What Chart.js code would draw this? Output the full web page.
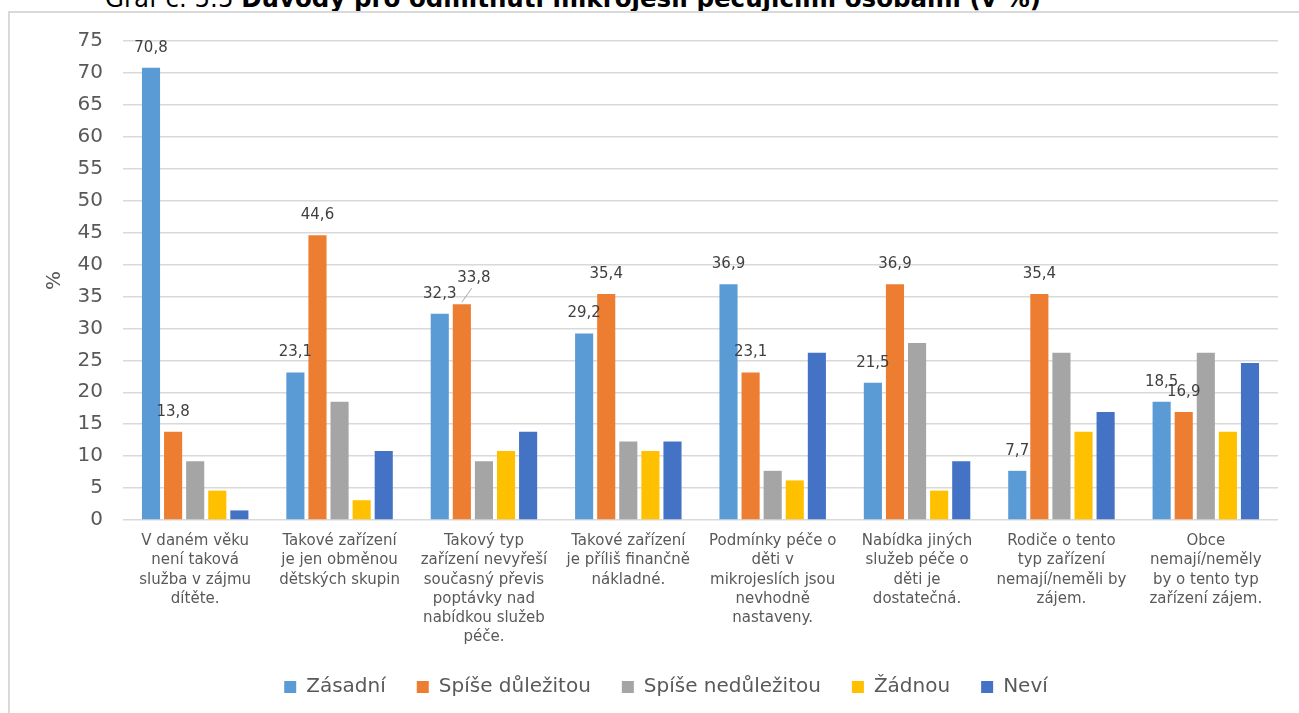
<!DOCTYPE html>
<html lang="cs">
<head>
<meta charset="utf-8">
<title>Důvody pro odmítnutí mikrojeslí</title>
<script src="https://cdn.jsdelivr.net/npm/chart.js@4.4.1/dist/chart.umd.min.js"></script>
<style>
  html, body { margin: 0; padding: 0; background: #fff; overflow: hidden; }
  body { width: 1299px; height: 713px; position: relative; font-family: "DejaVu Sans", Verdana, sans-serif; }
  #titulek { position: absolute; left: 105px; top: -16px; font-size: 24.5px; line-height: 30px; color: #000; white-space: nowrap; }
  #ramec { position: absolute; left: 8px; top: 11px; width: 1291px; height: 702px;
           border-left: 2px solid #d9d9d9; border-top: 2px solid #d9d9d9; background: #fff; }
  #graf { position: absolute; left: 0; top: -4px; }
</style>
</head>
<body>
<div id="titulek">Graf č. 5.5 <b>Důvody pro odmítnutí mikrojeslí pečujícími osobami (v %)</b></div>
<div id="ramec"><canvas id="graf" width="1289" height="704"></canvas></div>

<script>
/* kategorie (popisky osy x, zalomené po řádcích jako v originále) */
const duvody = [
      ["V daném věku", "není taková", "služba v zájmu", "dítěte."],
      ["Takové zařízení", "je jen obměnou", "dětských skupin"],
      ["Takový typ", "zařízení nevyřeší", "současný převis", "poptávky nad", "nabídkou služeb", "péče."],
      ["Takové zařízení", "je příliš finančně", "nákladné."],
      ["Podmínky péče o", "děti v", "mikrojeslích jsou", "nevhodně", "nastaveny."],
      ["Nabídka jiných", "služeb péče o", "děti je", "dostatečná."],
      ["Rodiče o tento", "typ zařízení", "nemají/neměli by", "zájem."],
      ["Obce", "nemají/neměly", "by o tento typ", "zařízení zájem."]
];

/* hodnoty v % podle odpovědí */
const zasadni        = [70.8, 23.1, 32.3, 29.2, 36.9, 21.5,  7.7, 18.5];
const spiseDulezitou = [13.8, 44.6, 33.8, 35.4, 23.1, 36.9, 35.4, 16.9];
const spiseNedulez   = [ 9.2, 18.5,  9.2, 12.3,  7.7, 27.7, 26.2, 26.2];
const zadnou         = [ 4.6,  3.1, 10.8, 10.8,  6.2,  4.6, 13.8, 13.8];
const nevi           = [ 1.5, 10.8, 13.8, 12.3, 26.2,  9.2, 16.9, 24.6];

/* osa y */
const osaMin = 0, osaMax = 75, osaKrok = 5;

const FONT = '"DejaVu Sans", Verdana, sans-serif';

/* popisky hodnot jen u prvních dvou řad (jako v originále) */
const popiskyHodnot = {
      id: 'popiskyHodnot',
      afterDatasetsDraw(chart) {
            const ctx = chart.ctx;
            ctx.save();
            ctx.font = '15px ' + FONT;
            ctx.fillStyle = '#404040';
            ctx.textAlign = 'center';
            ctx.textBaseline = 'middle';
            [0, 1].forEach((di) => {
                  const meta = chart.getDatasetMeta(di);
                  meta.data.forEach((bar, i) => {
                        const txt = chart.data.datasets[di].data[i].toFixed(1).replace('.', ',');
                        let x = bar.x, y = bar.y - 20;
                        // v originále je tento popisek posunutý a má vodicí čáru
                        if (di === 1 && i === 2) {
                              x += 12; y -= 6;
                              ctx.strokeStyle = '#a6a6a6';
                              ctx.lineWidth = 1;
                              ctx.beginPath();
                              ctx.moveTo(bar.x, bar.y - 2);
                              ctx.lineTo(x - 2, y + 10);
                              ctx.stroke();
                        }
                        ctx.fillText(txt, x, y);
                  });
            });
            ctx.restore();
      }
};

const graf = new Chart(document.getElementById('graf'), {
      type: 'bar',
      data: {
            labels: duvody,
            datasets: [
                  { label: 'Zásadní',           data: zasadni,        backgroundColor: '#5B9BD5' },
                  { label: 'Spíše důležitou',   data: spiseDulezitou, backgroundColor: '#ED7D31' },
                  { label: 'Spíše nedůležitou', data: spiseNedulez,   backgroundColor: '#A5A5A5' },
                  { label: 'Žádnou',            data: zadnou,         backgroundColor: '#FFC000' },
                  { label: 'Neví',              data: nevi,           backgroundColor: '#4472C4' }
            ]
      },
      options: {
            responsive: false,
            animation: false,
            categoryPercentage: 0.765,
            barPercentage: 0.82,
            layout: { padding: { top: 10, right: 21, left: 44, bottom: 6 } },
            plugins: {
                  legend: {
                        position: 'bottom',
                        labels: {
                              boxWidth: 12, boxHeight: 12, padding: 31,
                              color: '#595959',
                              font: { family: FONT, size: 20 }
                        }
                  },
                  tooltip: { enabled: false }
            },
            scales: {
                  x: {
                        grid: { display: false, drawTicks: false },
                        border: { display: false },
                        ticks: {
                              color: '#595959', autoSkip: false, maxRotation: 0, padding: 12,
                              font: { family: FONT, size: 15, lineHeight: 1.27 }
                        },
                        afterFit(scale) { scale.height = 126; }
                  },
                  y: {
                        min: osaMin, max: osaMax,
                        grid: { color: '#d9d9d9', lineWidth: 1.5, drawTicks: false },
                        border: { display: false },
                        ticks: {
                              stepSize: osaKrok, color: '#595959', padding: 20,
                              font: { family: FONT, size: 20 }
                        },
                        title: {
                              display: true, text: '%', color: '#595959',
                              font: { family: FONT, size: 20 },
                              padding: { top: -11, bottom: 0 }
                        },
                        afterFit(scale) { scale.width = 69; }
                  }
            }
      },
      plugins: [popiskyHodnot]
});
</script>
</body>
</html>
